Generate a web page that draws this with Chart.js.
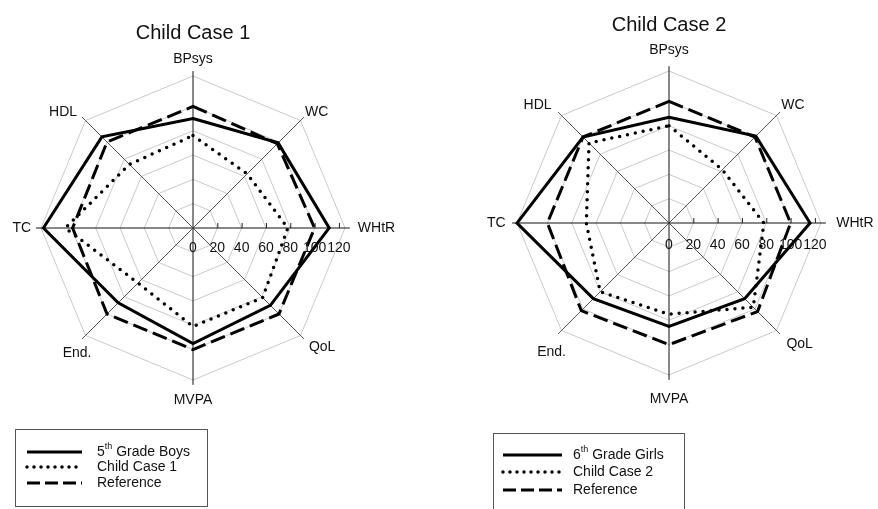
<!DOCTYPE html>
<html>
<head>
<meta charset="utf-8">
<script src="https://cdn.jsdelivr.net/npm/chart.js@4.4.0/dist/chart.umd.min.js"></script>
<style>
  body { margin: 0; background: #fff; }
  canvas { position: absolute; top: 0; }
</style>
</head>
<body>
<canvas id="case1" width="439" height="509" style="left:0"></canvas>
<canvas id="case2" width="439" height="509" style="left:439px"></canvas>
<script>
// axes and values
const categories = ['BPsys', 'WC', 'WHtR', 'QoL', 'MVPA', 'End.', 'TC', 'HDL'];
const tickValues = [0, 20, 40, 60, 80, 100, 120];

const boys5 = [90, 99, 112, 90, 95, 87, 123, 106];
const childCase1 = [76, 63, 78, 81, 81, 64, 105, 74];
const reference1 = [100, 98, 100, 100, 100, 100, 99, 100];

const girls6 = [87, 101, 116, 88, 85, 88, 125, 100];
const childCase2 = [80, 62, 78, 98, 75, 80, 68, 93];
const reference2 = [100, 100, 100, 103, 100, 102, 100, 100];

const FONT = '"Liberation Sans", Arial, sans-serif';

// where each axis name sits relative to the end of its axis line
const labelPlace = [
  { align: 'center', dx: 0, dy: -12 },
  { align: 'left', dx: 1, dy: -5 },
  { align: 'left', dx: 8, dy: 0 },
  { align: 'left', dx: 5, dy: 8 },
  { align: 'center', dx: 0, dy: 15 },
  { align: 'center', dx: -5, dy: 14 },
  { align: 'right', dx: -5, dy: 0 },
  { align: 'right', dx: -5, dy: -5 }
];

function lineStyles(labels, values) {
  return [
    { label: labels[0], data: values[0], borderColor: '#000', borderWidth: 3, borderDash: [], borderCapStyle: 'butt', fill: false, pointRadius: 0 },
    { label: labels[1], data: values[1], borderColor: '#000', borderWidth: 3.5, borderDash: [0, 8], borderCapStyle: 'round', fill: false, pointRadius: 0 },
    { label: labels[2], data: values[2], borderColor: '#000', borderWidth: 3, borderDash: [15, 6], borderCapStyle: 'butt', fill: false, pointRadius: 0 }
  ];
}

const decor = {
  id: 'decor',
  // axis lines, slightly longer than the outer ring
  beforeDatasetsDraw(chart) {
    const ctx = chart.ctx;
    const r = chart.scales.r;
    ctx.save();
    ctx.lineWidth = 1;
    categories.forEach((c, i) => {
      const p = r.getPointPositionForValue(i, 129);
      ctx.strokeStyle = i % 2 === 0 ? '#111' : '#555';
      ctx.beginPath();
      ctx.moveTo(r.xCenter, r.yCenter);
      ctx.lineTo(p.x, p.y);
      ctx.stroke();
    });
    ctx.restore();
  },
  // title, axis names, tick numbers and legend box
  afterDraw(chart, args, opts) {
    const ctx = chart.ctx;
    const r = chart.scales.r;
    ctx.save();
    ctx.fillStyle = '#111';

    ctx.font = '20px ' + FONT;
    ctx.textAlign = 'center';
    ctx.textBaseline = 'middle';
    ctx.fillText(opts.title, r.xCenter, r.yCenter - opts.titleGap);

    ctx.font = '14px ' + FONT;
    categories.forEach((c, i) => {
      const p = r.getPointPositionForValue(i, 129);
      const pl = labelPlace[i];
      const grow = opts.labelGrow;
      ctx.textAlign = pl.align;
      ctx.fillText(c, p.x + pl.dx * grow, p.y + pl.dy * grow);
    });

    ctx.textAlign = 'center';
    ctx.strokeStyle = '#222';
    ctx.lineWidth = 1;
    tickValues.forEach(v => {
      const p = r.getPointPositionForValue(2, v);
      ctx.fillText(String(v), p.x, p.y + opts.tickGap);
      if (v > 0) {
        ctx.beginPath();
        ctx.moveTo(p.x + 0.5, p.y);
        ctx.lineTo(p.x + 0.5, p.y - 5);
        ctx.stroke();
      }
    });

    const lg = opts.legend;
    ctx.strokeStyle = '#555';
    ctx.strokeRect(lg.x + 0.5, lg.y + 0.5, lg.w, lg.h);
    chart.data.datasets.forEach((ds, i) => {
      const y = lg.rows[i];
      ctx.save();
      ctx.strokeStyle = '#000';
      ctx.lineWidth = ds.borderWidth;
      ctx.lineCap = ds.borderCapStyle;
      ctx.setLineDash(i === 2 ? [13, 5] : ds.borderDash.length ? [0, 7] : []);
      ctx.beginPath();
      ctx.moveTo(lg.lineX, y);
      ctx.lineTo(lg.lineX + lg.lineW, y);
      ctx.stroke();
      ctx.restore();

      ctx.textAlign = 'left';
      ctx.font = '14px ' + FONT;
      const m = ds.label.match(/^(\d)(th)(.*)$/);
      if (m) {
        ctx.fillText(m[1], lg.textX, y);
        const w1 = ctx.measureText(m[1]).width;
        ctx.font = '9px ' + FONT;
        ctx.fillText(m[2], lg.textX + w1, y - 5);
        const w2 = ctx.measureText(m[2]).width;
        ctx.font = '14px ' + FONT;
        ctx.fillText(m[3], lg.textX + w1 + w2, y);
      } else {
        ctx.fillText(ds.label, lg.textX, y);
      }
    });
    ctx.restore();
  }
};

function makeRadar(id, datasets, padding, deco) {
  return new Chart(document.getElementById(id), {
    type: 'radar',
    data: { labels: categories, datasets: datasets },
    options: {
      responsive: false,
      animation: false,
      devicePixelRatio: 1,
      layout: { padding: padding },
      elements: { line: { tension: 0 } },
      plugins: {
        legend: { display: false },
        tooltip: { enabled: false },
        decor: deco
      },
      scales: {
        r: {
          min: 0,
          max: 125,
          beginAtZero: true,
          ticks: { display: false, stepSize: 20 },
          pointLabels: { display: false },
          grid: { color: '#cacaca', lineWidth: 1 },
          angleLines: { display: false }
        }
      }
    },
    plugins: [decor]
  });
}

makeRadar('case1',
  lineStyles(['5th Grade Boys', 'Child Case 1', 'Reference'], [boys5, childCase1, reference1]),
  { left: 41, top: 76, right: 94, bottom: 129 },
  { title: 'Child Case 1', titleGap: 195, tickGap: 20, labelGrow: 1,
    legend: { x: 15, y: 429, w: 192, h: 77, rows: [452, 467, 483], lineX: 27, lineW: 55, textX: 97 } });

makeRadar('case2',
  lineStyles(['6th Grade Girls', 'Child Case 2', 'Reference'], [girls6, childCase2, reference2]),
  { left: 78, top: 71, right: 57, bottom: 134 },
  { title: 'Child Case 2', titleGap: 198, tickGap: 22, labelGrow: 1.3,
    legend: { x: 54, y: 433, w: 191, h: 90, rows: [455, 472, 490], lineX: 64, lineW: 59, textX: 134 } });
</script>
</body>
</html>
